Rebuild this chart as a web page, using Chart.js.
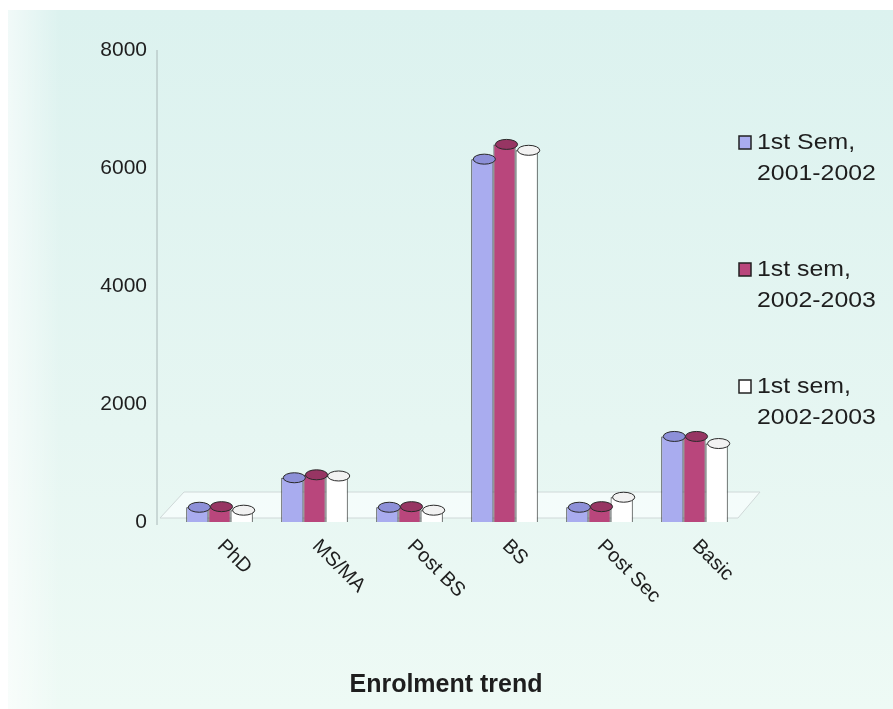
<!DOCTYPE html>
<html>
<head>
<meta charset="utf-8">
<script src="https://cdn.jsdelivr.net/npm/chart.js@4.4.1/dist/chart.umd.min.js"></script>
<style>
html, body { margin: 0; padding: 0; background: #fff; }
</style>
</head>
<body>
<canvas id="grafico" width="893" height="709"></canvas>
<script>
const categorias = ['PhD', 'MS/MA', 'Post BS', 'BS', 'Post Sec', 'Basic'];
const sem2001 = [250, 750, 250, 6150, 250, 1450];
const sem2002 = [260, 800, 260, 6400, 260, 1450];
const sem2002b = [200, 780, 200, 6300, 420, 1330];
const nombresSeries = ['1st Sem,\n2001-2002', '1st sem,\n2002-2003', '1st sem,\n2002-2003'];
const ticksY = [0, 2000, 4000, 6000, 8000];
const tituloX = 'Enrolment trend';

const FUENTE = "'Liberation Sans', Arial, sans-serif";
const relleno = ['#a9acef', '#b9467c', '#ffffff'];
const tapa = ['#8d90d8', '#973563', '#f2f2f2'];

// fondo celeste y piso del grafico
const fondo = {
    id: 'fondo',
    beforeDraw(chart) {
        const ctx = chart.ctx;
        ctx.save();
        ctx.fillStyle = '#ffffff';
        ctx.fillRect(0, 0, chart.width, chart.height);
        let g = ctx.createLinearGradient(0, 10, 0, chart.height);
        g.addColorStop(0, '#dcf2ef');
        g.addColorStop(0.6, '#e6f6f2');
        g.addColorStop(1, '#eefaf5');
        ctx.fillStyle = g;
        ctx.fillRect(8, 10, chart.width - 8, chart.height - 10);
        let r = ctx.createLinearGradient(8, 0, 60, 0);
        r.addColorStop(0, 'rgba(255,255,255,0.6)');
        r.addColorStop(1, 'rgba(255,255,255,0)');
        ctx.fillStyle = r;
        ctx.fillRect(8, 10, 60, chart.height - 10);
        ctx.restore();
    },
    beforeDatasetsDraw(chart) {
        const ctx = chart.ctx;
        const a = chart.chartArea;
        const y0 = chart.scales.y.getPixelForValue(0);
        ctx.save();
        // piso
        ctx.beginPath();
        ctx.moveTo(a.left - 12, y0 - 4);
        ctx.lineTo(a.left + 12, y0 - 30);
        ctx.lineTo(a.right + 18, y0 - 30);
        ctx.lineTo(a.right - 4, y0 - 4);
        ctx.closePath();
        ctx.fillStyle = 'rgba(250,253,253,0.7)';
        ctx.fill();
        ctx.strokeStyle = '#cfd8d8';
        ctx.lineWidth = 1;
        ctx.stroke();
        // eje vertical
        ctx.beginPath();
        ctx.moveTo(a.left - 15, chart.scales.y.getPixelForValue(8000));
        ctx.lineTo(a.left - 15, y0 + 3);
        ctx.strokeStyle = '#aab8b8';
        ctx.stroke();
        ctx.restore();
    },
    afterDatasetsDraw(chart) {
        const ctx = chart.ctx;
        ctx.save();
        chart.data.datasets.forEach((ds, i) => {
            chart.getDatasetMeta(i).data.forEach(el => {
                const p = el.getProps(['x', 'y', 'width'], true);
                ctx.beginPath();
                ctx.ellipse(p.x + 2, p.y, p.width / 2, 5, 0, 0, Math.PI * 2);
                ctx.fillStyle = tapa[i];
                ctx.fill();
                ctx.strokeStyle = '#2a2a2a';
                ctx.lineWidth = 1;
                ctx.stroke();
            });
        });
        ctx.restore();
    },
    afterDraw(chart) {
        const ctx = chart.ctx;
        const xs = chart.scales.x;
        ctx.save();
        ctx.fillStyle = '#1e1e1e';
        // etiquetas de categorias inclinadas
        ctx.font = '20px ' + FUENTE;
        ctx.textAlign = 'left';
        ctx.textBaseline = 'middle';
        categorias.forEach((c, i) => {
            ctx.save();
            ctx.translate(xs.getPixelForValue(i) + 1, 543);
            ctx.rotate(Math.PI / 4);
            ctx.fillText(c, 0, 0);
            ctx.restore();
        });
        // titulo
        ctx.font = 'bold 25px ' + FUENTE;
        ctx.textAlign = 'center';
        ctx.fillText(tituloX, 446, 685);
        // leyenda
        const posY = [143, 270, 387];
        ctx.textAlign = 'left';
        ctx.font = '22px ' + FUENTE;
        chart.data.datasets.forEach((ds, i) => {
            ctx.fillStyle = ds.backgroundColor;
            ctx.fillRect(739, posY[i] - 7, 12, 13);
            ctx.strokeStyle = '#222';
            ctx.lineWidth = 1.5;
            ctx.strokeRect(739, posY[i] - 7, 12, 13);
            ctx.fillStyle = '#1e1e1e';
            ds.label.split('\n').forEach((linea, k) => {
                ctx.save();
                ctx.translate(757, posY[i] + k * 31);
                ctx.scale(1.13, 1);
                ctx.fillText(linea, 0, 0);
                ctx.restore();
            });
        });
        ctx.restore();
    }
};

const series = [sem2001, sem2002, sem2002b];

new Chart(document.getElementById('grafico'), {
    type: 'bar',
    data: {
        labels: categorias,
        datasets: series.map((s, i) => ({
            label: nombresSeries[i],
            data: s,
            backgroundColor: relleno[i],
            borderColor: '#2a2a2a',
            borderWidth: 1,
            categoryPercentage: 0.7,
            barPercentage: 1.0
        }))
    },
    options: {
        responsive: false,
        animation: false,
        layout: { padding: { left: 62, right: 151, top: 50, bottom: 187 } },
        plugins: {
            legend: { display: false },
            tooltip: { enabled: false }
        },
        scales: {
            x: { display: false },
            y: {
                min: 0,
                max: 8000,
                afterBuildTicks: scale => { scale.ticks = ticksY.map(v => ({ value: v })); },
                afterFit: scale => { scale.width = 110; },
                grid: { display: false, drawTicks: false },
                border: { display: false },
                ticks: {
                    padding: 25,
                    color: '#1e1e1e',
                    font: { family: FUENTE, size: 21 },
                    callback: v => String(v)
                }
            }
        }
    },
    plugins: [fondo]
});
</script>
</body>
</html>
